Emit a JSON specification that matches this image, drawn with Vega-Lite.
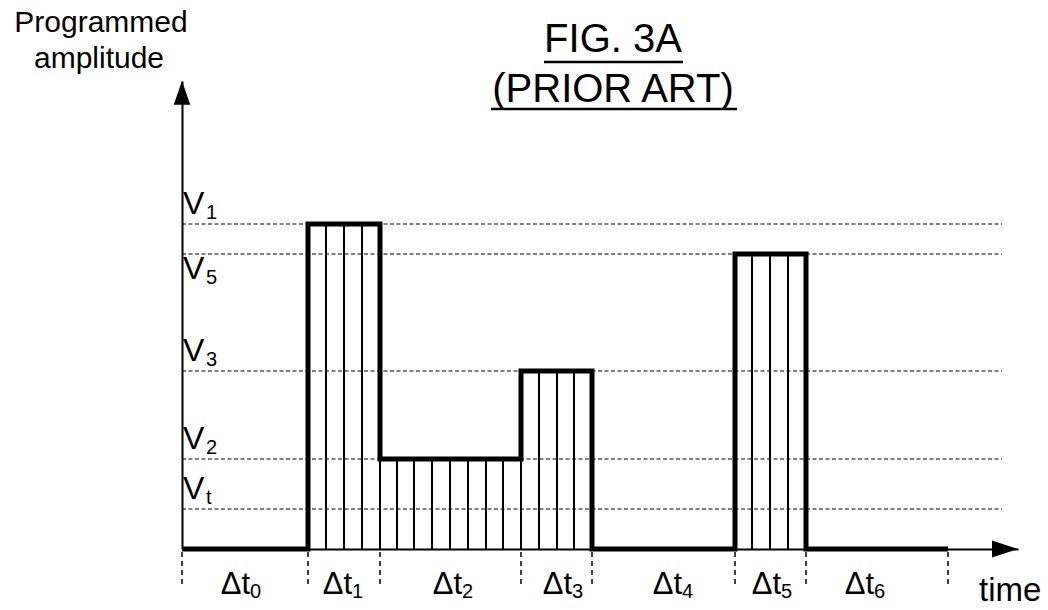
{
  "$schema": "https://vega.github.io/schema/vega-lite/v6.json",
  "width": 836,
  "height": 468,
  "autosize": "none",
  "padding": {"left": 182, "top": 81, "right": 30, "bottom": 61},
  "background": "white",
  "config": {
    "view": {"stroke": null},
    "font": "Liberation Sans",
    "axis": {"domain": true, "domainColor": "black", "domainWidth": 2, "ticks": false, "labels": false, "grid": false}
  },
  "datasets": {
    "levels": [
      {"name": "V", "sub": "1", "amp": 325, "side": "above"},
      {"name": "V", "sub": "5", "amp": 295, "side": "below"},
      {"name": "V", "sub": "3", "amp": 178, "side": "above"},
      {"name": "V", "sub": "2", "amp": 90, "side": "above"},
      {"name": "V", "sub": "t", "amp": 40, "side": "above"}
    ],
    "wave": [
      {"t": 0, "amp": 0},
      {"t": 126, "amp": 325},
      {"t": 198, "amp": 90},
      {"t": 339, "amp": 178},
      {"t": 410, "amp": 0},
      {"t": 553, "amp": 295},
      {"t": 624, "amp": 0},
      {"t": 766, "amp": 0}
    ],
    "bounds": [
      {"t": 0}, {"t": 126}, {"t": 198}, {"t": 339}, {"t": 410}, {"t": 553}, {"t": 624}, {"t": 766}
    ],
    "intervals": [
      {"name": "Δt", "sub": "0", "labelT": 68},
      {"name": "Δt", "sub": "1", "labelT": 170},
      {"name": "Δt", "sub": "2", "labelT": 280},
      {"name": "Δt", "sub": "3", "labelT": 390},
      {"name": "Δt", "sub": "4", "labelT": 500},
      {"name": "Δt", "sub": "5", "labelT": 599},
      {"name": "Δt", "sub": "6", "labelT": 692}
    ],
    "hatch": [
      {"t": 144, "amp": 325}, {"t": 162, "amp": 325}, {"t": 180, "amp": 325},
      {"t": 198, "amp": 90}, {"t": 215, "amp": 90}, {"t": 232, "amp": 90}, {"t": 250, "amp": 90},
      {"t": 268, "amp": 90}, {"t": 286, "amp": 90}, {"t": 304, "amp": 90}, {"t": 321, "amp": 90},
      {"t": 339, "amp": 90},
      {"t": 357, "amp": 178}, {"t": 375, "amp": 178}, {"t": 392, "amp": 178},
      {"t": 570, "amp": 295}, {"t": 588, "amp": 295}, {"t": 606, "amp": 295}
    ],
    "titles": [
      {"line": "FIG. 3A", "t": 431, "amp": 497, "t0": 362, "t1": 501, "u": 487},
      {"line": "(PRIOR ART)", "t": 431, "amp": 447, "t0": 309, "t1": 555, "u": 440}
    ],
    "axisTitles": [
      {"text": "Programmed", "t": -81, "amp": 517, "align": "center"},
      {"text": "amplitude", "t": -83, "amp": 481, "align": "center"}
    ],
    "timeTitle": [
      {"text": "time", "t": 797, "amp": -52}
    ],
    "arrows": [{"t": 0, "amp": 468, "tx": 836, "ax": 0}]
  },
  "layer": [
    {
      "data": {"name": "levels"},
      "mark": {"type": "rule", "strokeDash": [4, 2.5], "strokeWidth": 1.2, "color": "black"},
      "encoding": {
        "y": {
          "field": "amp", "type": "quantitative", "title": null,
          "scale": {"domain": [0, 468], "nice": false, "zero": false}
        },
        "x": {
          "datum": 0, "type": "quantitative", "title": null,
          "scale": {"domain": [0, 836], "nice": false, "zero": false}
        },
        "x2": {"datum": 820}
      }
    },
    {
      "data": {"name": "bounds"},
      "mark": {"type": "rule", "strokeDash": [5, 4], "strokeWidth": 1.5, "color": "black"},
      "encoding": {
        "x": {"field": "t", "type": "quantitative", "title": null},
        "y": {"datum": -3, "type": "quantitative", "title": null},
        "y2": {"datum": -37}
      }
    },
    {
      "data": {"name": "hatch"},
      "mark": {"type": "rule", "strokeWidth": 2, "color": "black"},
      "encoding": {
        "x": {"field": "t", "type": "quantitative", "title": null},
        "y": {"field": "amp", "type": "quantitative", "title": null},
        "y2": {"datum": 0}
      }
    },
    {
      "data": {"name": "wave"},
      "mark": {"type": "line", "interpolate": "step-after", "strokeWidth": 5, "strokeJoin": "miter", "color": "black"},
      "encoding": {
        "x": {"field": "t", "type": "quantitative", "title": null},
        "y": {"field": "amp", "type": "quantitative", "title": null}
      }
    },
    {
      "data": {"name": "arrows"},
      "mark": {"type": "point", "shape": "M0,0L0.7,2L-0.7,2Z", "size": 560, "filled": true, "color": "black", "opacity": 1, "strokeWidth": 0},
      "encoding": {
        "x": {"field": "t", "type": "quantitative", "title": null},
        "y": {"field": "amp", "type": "quantitative", "title": null}
      }
    },
    {
      "data": {"name": "arrows"},
      "mark": {"type": "point", "shape": "M0,0L-2,-0.65L-2,0.65Z", "size": 676, "filled": true, "color": "black", "opacity": 1, "strokeWidth": 0},
      "encoding": {
        "x": {"field": "tx", "type": "quantitative", "title": null},
        "y": {"field": "ax", "type": "quantitative", "title": null}
      }
    },
    {
      "data": {"name": "levels"},
      "transform": [{"filter": "datum.side == 'above'"}],
      "mark": {"type": "text", "align": "left", "baseline": "alphabetic", "dx": 1, "dy": -10, "fontSize": 32, "font": "Liberation Sans", "color": "black"},
      "encoding": {
        "x": {"datum": 0, "type": "quantitative", "title": null},
        "y": {"field": "amp", "type": "quantitative", "title": null},
        "text": {"field": "name", "type": "nominal"}
      }
    },
    {
      "data": {"name": "levels"},
      "transform": [{"filter": "datum.side == 'above'"}],
      "mark": {"type": "text", "align": "left", "baseline": "alphabetic", "dx": 24, "dy": -5, "fontSize": 20, "font": "Liberation Sans", "color": "black"},
      "encoding": {
        "x": {"datum": 0, "type": "quantitative", "title": null},
        "y": {"field": "amp", "type": "quantitative", "title": null},
        "text": {"field": "sub", "type": "nominal"}
      }
    },
    {
      "data": {"name": "levels"},
      "transform": [{"filter": "datum.side == 'below'"}],
      "mark": {"type": "text", "align": "left", "baseline": "alphabetic", "dx": 1, "dy": 25, "fontSize": 32, "font": "Liberation Sans", "color": "black"},
      "encoding": {
        "x": {"datum": 0, "type": "quantitative", "title": null},
        "y": {"field": "amp", "type": "quantitative", "title": null},
        "text": {"field": "name", "type": "nominal"}
      }
    },
    {
      "data": {"name": "levels"},
      "transform": [{"filter": "datum.side == 'below'"}],
      "mark": {"type": "text", "align": "left", "baseline": "alphabetic", "dx": 24, "dy": 30, "fontSize": 20, "font": "Liberation Sans", "color": "black"},
      "encoding": {
        "x": {"datum": 0, "type": "quantitative", "title": null},
        "y": {"field": "amp", "type": "quantitative", "title": null},
        "text": {"field": "sub", "type": "nominal"}
      }
    },
    {
      "data": {"name": "intervals"},
      "mark": {"type": "text", "align": "right", "baseline": "alphabetic", "dy": 45, "fontSize": 31, "font": "Liberation Sans", "color": "black"},
      "encoding": {
        "x": {"field": "labelT", "type": "quantitative", "title": null},
        "y": {"datum": 0, "type": "quantitative", "title": null},
        "text": {"field": "name", "type": "nominal"}
      }
    },
    {
      "data": {"name": "intervals"},
      "mark": {"type": "text", "align": "left", "baseline": "alphabetic", "dy": 49, "fontSize": 20, "font": "Liberation Sans", "color": "black"},
      "encoding": {
        "x": {"field": "labelT", "type": "quantitative", "title": null},
        "y": {"datum": 0, "type": "quantitative", "title": null},
        "text": {"field": "sub", "type": "nominal"}
      }
    },
    {
      "data": {"name": "axisTitles"},
      "mark": {"type": "text", "align": "center", "baseline": "alphabetic", "fontSize": 30, "font": "Liberation Sans", "color": "black"},
      "encoding": {
        "x": {"field": "t", "type": "quantitative", "title": null},
        "y": {"field": "amp", "type": "quantitative", "title": null},
        "text": {"field": "text", "type": "nominal"}
      }
    },
    {
      "data": {"name": "timeTitle"},
      "mark": {"type": "text", "align": "left", "baseline": "alphabetic", "fontSize": 33, "font": "Liberation Sans", "color": "black"},
      "encoding": {
        "x": {"field": "t", "type": "quantitative", "title": null},
        "y": {"field": "amp", "type": "quantitative", "title": null},
        "text": {"field": "text", "type": "nominal"}
      }
    },
    {
      "data": {"name": "titles"},
      "mark": {"type": "text", "align": "center", "baseline": "alphabetic", "fontSize": 40, "font": "Liberation Sans", "color": "black"},
      "encoding": {
        "x": {"field": "t", "type": "quantitative", "title": null},
        "y": {"field": "amp", "type": "quantitative", "title": null},
        "text": {"field": "line", "type": "nominal"}
      }
    },
    {
      "data": {"name": "titles"},
      "mark": {"type": "rule", "strokeWidth": 2.5, "color": "black"},
      "encoding": {
        "x": {"field": "t0", "type": "quantitative", "title": null},
        "x2": {"field": "t1"},
        "y": {"field": "u", "type": "quantitative", "title": null}
      }
    }
  ]
}
